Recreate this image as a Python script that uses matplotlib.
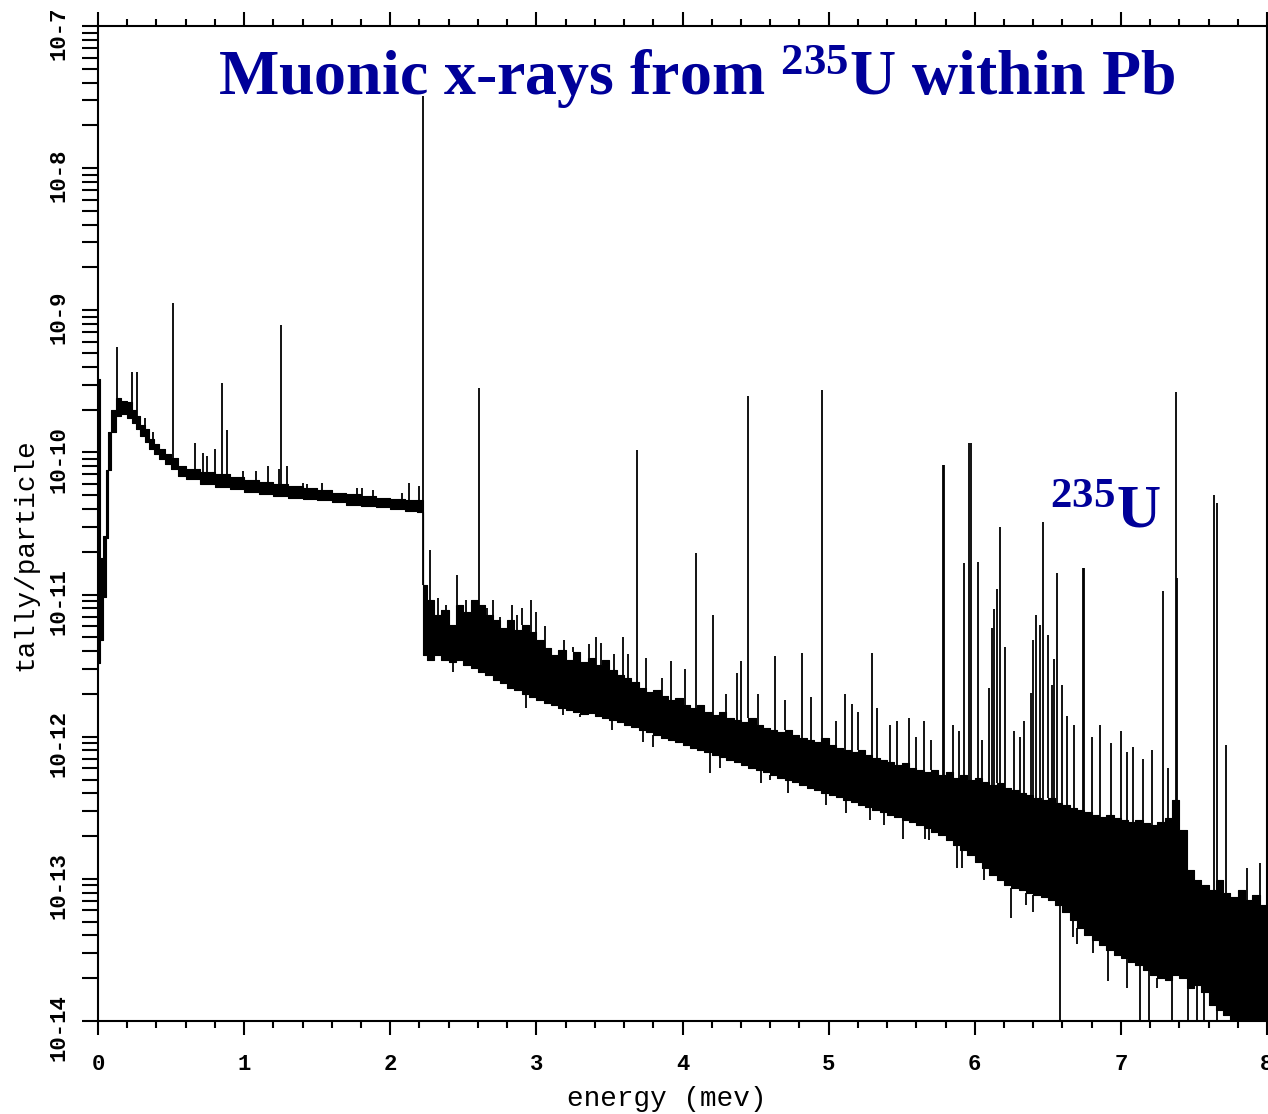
import numpy as np
import matplotlib
matplotlib.use("Agg")
import matplotlib.pyplot as plt
from matplotlib.ticker import LogLocator, MultipleLocator, NullFormatter, FixedLocator
from matplotlib.transforms import ScaledTranslation

plt.rcParams['mathtext.fontset'] = 'custom'
plt.rcParams['mathtext.rm'] = 'Liberation Serif:bold'
plt.rcParams['mathtext.it'] = 'Liberation Serif:bold'
plt.rcParams['mathtext.bf'] = 'Liberation Serif:bold'

# ---------------- data (energy in MeV, tally/particle) ----------------
# continuum band below 2.22 MeV: bin left edges, lower / upper envelope
low_e = [0.000, 0.015, 0.035, 0.055, 0.070, 0.090, 0.120, 0.160, 0.200, 0.230,
         0.260, 0.290, 0.320, 0.350, 0.380, 0.420, 0.460, 0.500, 0.550, 0.600,
         0.700, 0.800, 0.900, 1.000, 1.100, 1.200, 1.300, 1.400, 1.500, 1.600,
         1.700, 1.800, 1.900, 2.000, 2.100, 2.180]
low_lo = [3.3e-12, 4.8e-12, 9.6e-12, 2.5e-11, 7.5e-11, 1.4e-10, 1.8e-10, 1.85e-10, 1.75e-10, 1.6e-10,
          1.45e-10, 1.3e-10, 1.18e-10, 1.05e-10, 9.8e-11, 9.0e-11, 8.3e-11, 7.6e-11, 6.8e-11, 6.5e-11,
          6.0e-11, 5.7e-11, 5.5e-11, 5.3e-11, 5.1e-11, 4.95e-11, 4.8e-11, 4.7e-11, 4.6e-11, 4.45e-11,
          4.3e-11, 4.2e-11, 4.1e-11, 4.0e-11, 3.85e-11, 3.8e-11]
low_hi = [3.3e-10, 1.8e-11, 2.6e-11, 7.5e-11, 1.4e-10, 2.0e-10, 2.4e-10, 2.3e-10, 2.25e-10, 2.0e-10,
          1.8e-10, 1.55e-10, 1.45e-10, 1.25e-10, 1.15e-10, 1.05e-10, 9.8e-11, 9.2e-11, 8.0e-11, 7.7e-11,
          7.3e-11, 7.0e-11, 6.7e-11, 6.4e-11, 6.2e-11, 6.0e-11, 5.8e-11, 5.6e-11, 5.4e-11, 5.2e-11,
          5.1e-11, 4.95e-11, 4.8e-11, 4.7e-11, 4.65e-11, 4.6e-11]

# continuum band above 2.22 MeV
high_e = [2.222, 2.25, 2.30, 2.35, 2.40, 2.45, 2.50, 2.55, 2.60, 2.65,
          2.70, 2.75, 2.80, 2.85, 2.90, 2.95, 3.00, 3.05, 3.10, 3.15,
          3.20, 3.25, 3.30, 3.35, 3.40, 3.45, 3.50, 3.55, 3.60, 3.65,
          3.70, 3.75, 3.80, 3.85, 3.90, 3.95, 4.00, 4.05, 4.10, 4.15,
          4.20, 4.25, 4.30, 4.35, 4.40, 4.45, 4.50, 4.55, 4.60, 4.65,
          4.70, 4.75, 4.80, 4.85, 4.90, 4.95, 5.00, 5.05, 5.10, 5.15,
          5.20, 5.25, 5.30, 5.35, 5.40, 5.45, 5.50, 5.55, 5.60, 5.65,
          5.70, 5.75, 5.80, 5.85, 5.90, 5.95, 6.00, 6.05, 6.10, 6.15,
          6.20, 6.25, 6.30, 6.35, 6.40, 6.45, 6.50, 6.55, 6.60, 6.65,
          6.70, 6.75, 6.80, 6.85, 6.90, 6.95, 7.00, 7.05, 7.10, 7.15,
          7.20, 7.25, 7.30, 7.35, 7.40, 7.45, 7.50, 7.55, 7.60, 7.65,
          7.70, 7.75, 7.80, 7.85, 7.90, 7.95, 8.00]
high_hi = [1.17e-11, 9.2e-12, 7.2e-12, 7.8e-12, 6.1e-12, 8.45e-12, 7.5e-12, 9.2e-12, 8.45e-12, 7.2e-12,
           6.6e-12, 5.8e-12, 6.6e-12, 5.6e-12, 6.1e-12, 5.45e-12, 4.8e-12, 4.2e-12, 3.76e-12, 4.1e-12,
           3.47e-12, 3.95e-12, 3.36e-12, 3.58e-12, 3.2e-12, 3.47e-12, 2.95e-12, 2.72e-12, 2.59e-12, 2.43e-12,
           2.2e-12, 2.06e-12, 2.13e-12, 1.94e-12, 1.81e-12, 1.87e-12, 1.67e-12, 1.59e-12, 1.67e-12, 1.49e-12,
           1.42e-12, 1.49e-12, 1.36e-12, 1.31e-12, 1.27e-12, 1.36e-12, 1.21e-12, 1.15e-12, 1.11e-12, 1.08e-12,
           1.11e-12, 1.03e-12, 9.8e-13, 9.5e-13, 9.2e-13, 9.8e-13, 8.75e-13, 8.3e-13, 8.1e-13, 7.8e-13,
           8.1e-13, 7.45e-13, 7.1e-13, 6.85e-13, 6.65e-13, 6.3e-13, 6.5e-13, 6.0e-13, 5.8e-13, 5.65e-13,
           5.8e-13, 5.4e-13, 5.65e-13, 5.1e-13, 5.4e-13, 4.95e-13, 5.1e-13, 4.8e-13, 4.57e-13, 4.7e-13,
           4.35e-13, 4.2e-13, 4.0e-13, 3.9e-13, 3.7e-13, 3.6e-13, 3.7e-13, 3.42e-13, 3.3e-13, 3.15e-13,
           3.05e-13, 2.95e-13, 2.8e-13, 2.72e-13, 2.8e-13, 2.68e-13, 2.6e-13, 2.5e-13, 2.6e-13, 2.47e-13,
           2.4e-13, 2.5e-13, 2.68e-13, 3.6e-13, 2.2e-13, 1.15e-13, 9.8e-14, 9.05e-14, 8.35e-14, 9.8e-14,
           7.95e-14, 7.45e-14, 8.35e-14, 7.1e-14, 7.7e-14, 6.55e-14, 7.1e-14]
high_lo = [3.76e-12, 3.47e-12, 3.76e-12, 3.47e-12, 3.36e-12, 3.47e-12, 3.2e-12, 3.05e-12, 2.85e-12, 2.72e-12,
           2.5e-12, 2.39e-12, 2.2e-12, 2.13e-12, 2.0e-12, 1.9e-12, 1.81e-12, 1.73e-12, 1.67e-12, 1.59e-12,
           1.54e-12, 1.49e-12, 1.45e-12, 1.47e-12, 1.4e-12, 1.36e-12, 1.31e-12, 1.27e-12, 1.21e-12, 1.17e-12,
           1.11e-12, 1.08e-12, 1.03e-12, 9.8e-13, 9.5e-13, 9.2e-13, 8.75e-13, 8.3e-13, 8.1e-13, 7.8e-13,
           7.45e-13, 7.2e-13, 6.85e-13, 6.65e-13, 6.3e-13, 6.0e-13, 5.8e-13, 5.65e-13, 5.4e-13, 5.1e-13,
           4.95e-13, 4.8e-13, 4.57e-13, 4.35e-13, 4.2e-13, 4.0e-13, 3.9e-13, 3.77e-13, 3.6e-13, 3.47e-13,
           3.3e-13, 3.2e-13, 3.05e-13, 2.95e-13, 2.8e-13, 2.72e-13, 2.6e-13, 2.5e-13, 2.4e-13, 2.28e-13,
           2.14e-13, 2.04e-13, 1.88e-13, 1.73e-13, 1.6e-13, 1.47e-13, 1.31e-13, 1.19e-13, 1.06e-13, 9.8e-14,
           9.05e-14, 8.6e-14, 8.35e-14, 7.95e-14, 7.7e-14, 7.45e-14, 7.1e-14, 6.55e-14, 5.85e-14, 5.15e-14,
           4.5e-14, 4.0e-14, 3.7e-14, 3.4e-14, 3.15e-14, 2.9e-14, 2.77e-14, 2.6e-14, 2.48e-14, 2.29e-14,
           2.1e-14, 2.0e-14, 1.95e-14, 2.1e-14, 2.0e-14, 1.7e-14, 1.8e-14, 1.6e-14, 1.3e-14, 1.2e-14,
           1.1e-14, 5e-15, 5e-15, 5e-15, 5e-15, 5e-15, 5e-15]

# x-ray / gamma lines rising above the continuum: energy, peak value
peak_e = [0.130, 0.233, 0.267, 0.320, 0.375, 0.513, 0.664, 0.720, 0.745, 0.800,
          0.850, 0.880, 0.990, 1.080, 1.160, 1.240, 1.253, 1.290, 1.400, 1.430,
          1.530, 1.770, 1.810, 1.880, 2.080, 2.130, 2.200,
          2.223, 2.270, 2.330, 2.380, 2.457, 2.520, 2.610, 2.660, 2.700, 2.750,
          2.830, 2.870, 2.900, 2.960, 3.000, 3.060, 3.190, 3.250, 3.360, 3.410,
          3.440, 3.530, 3.590, 3.630, 3.691, 3.750, 3.860, 3.920, 4.020, 4.091,
          4.212, 4.300, 4.370, 4.400, 4.451, 4.520, 4.630, 4.700, 4.816, 4.880,
          4.955, 5.050, 5.110, 5.160, 5.200, 5.296, 5.330, 5.420, 5.470, 5.550,
          5.600, 5.650, 5.700, 5.781, 5.789, 5.850, 5.890, 5.927, 5.964, 5.972,
          6.021, 6.048, 6.100, 6.117, 6.135, 6.151, 6.174, 6.208, 6.270, 6.310,
          6.340, 6.386, 6.400, 6.420, 6.447, 6.468, 6.500, 6.530, 6.545, 6.564,
          6.600, 6.630, 6.680, 6.740, 6.748, 6.800, 6.860, 6.930, 7.000, 7.040,
          7.080, 7.150, 7.210, 7.287, 7.320, 7.378, 7.386, 7.639, 7.657, 7.720,
          7.860, 7.950]
peak_top = [5.5e-10, 3.7e-10, 3.7e-10, 1.75e-10, 1.39e-10, 1.12e-9, 1.16e-10, 9.9e-11, 9.5e-11, 1.05e-10,
            3.08e-10, 1.44e-10, 7.4e-11, 7.4e-11, 8.0e-11, 7.6e-11, 7.9e-10, 8.0e-11, 6.1e-11, 6.0e-11,
            6.1e-11, 5.6e-11, 5.6e-11, 5.4e-11, 5.2e-11, 6.1e-11, 5.8e-11,
            3.2e-8, 2.06e-11, 9.5e-12, 8.5e-12, 1.37e-11, 9.2e-12, 2.84e-10, 8.0e-12, 9.2e-12, 7.0e-12,
            8.5e-12, 7.2e-12, 8.0e-12, 9.2e-12, 7.6e-12, 6.0e-12, 4.8e-12, 4.3e-12, 4.5e-12, 5.0e-12,
            4.6e-12, 3.8e-12, 5.0e-12, 3.8e-12, 1.04e-10, 3.6e-12, 2.6e-12, 3.4e-12, 3.0e-12, 1.96e-11,
            7.2e-12, 2.0e-12, 2.8e-12, 3.4e-12, 2.5e-10, 2.0e-12, 3.7e-12, 1.8e-12, 3.9e-12, 1.9e-12,
            2.75e-10, 1.3e-12, 2.0e-12, 1.7e-12, 1.5e-12, 3.9e-12, 1.6e-12, 1.2e-12, 1.3e-12, 1.36e-12,
            1.0e-12, 1.3e-12, 9.5e-13, 8.2e-11, 8.2e-11, 1.2e-12, 1.1e-12, 1.67e-11, 1.16e-10, 1.16e-10,
            1.7e-11, 9.5e-13, 2.2e-12, 5.8e-12, 7.9e-12, 1.1e-11, 3.0e-11, 4.3e-12, 1.1e-12, 1.0e-12,
            1.3e-12, 2.03e-12, 4.8e-12, 7.2e-12, 6.1e-12, 3.24e-11, 5.2e-12, 2.3e-12, 3.5e-12, 1.42e-11,
            2.3e-12, 1.4e-12, 1.2e-12, 1.54e-11, 1.54e-11, 1.0e-12, 1.2e-12, 9.0e-13, 1.1e-12, 7.8e-13,
            8.5e-13, 7.0e-13, 8.0e-13, 1.06e-11, 6.0e-13, 2.66e-10, 1.3e-11, 5.0e-11, 4.4e-11, 8.7e-13,
            1.2e-13, 1.3e-13]

# bins dropping below the continuum: energy, lowest value
dip_e = [2.43, 2.93, 3.18, 3.30, 3.52, 3.73, 3.80, 4.19, 4.26, 4.54,
         4.60, 4.72, 4.98, 5.12, 5.28, 5.38, 5.51, 5.66, 5.69, 5.88,
         5.91, 6.06, 6.25, 6.35, 6.40, 6.58, 6.67, 6.70, 6.81, 6.91,
         7.04, 7.13, 7.19, 7.25, 7.35, 7.46, 7.52, 7.57, 7.66]
dip_bottom = [2.85e-12, 1.59e-12, 1.42e-12, 1.38e-12, 1.11e-12, 9.2e-13, 8.5e-13, 5.6e-13, 6.0e-13, 4.7e-13,
              4.95e-13, 4.0e-13, 3.3e-13, 2.9e-13, 2.6e-13, 2.4e-13, 1.9e-13, 1.9e-13, 1.88e-13, 1.19e-13,
              1.2e-13, 9.8e-14, 5.3e-14, 6.5e-14, 5.8e-14, 5e-15, 3.9e-14, 3.5e-14, 3.0e-14, 1.9e-14,
              1.7e-14, 5e-15, 5e-15, 1.7e-14, 5e-15, 5e-15, 5e-15, 5e-15, 5e-15]

x_ticks = [0, 1, 2, 3, 4, 5, 6, 7, 8]
x_tick_labels = ['0', '1', '2', '3', '4', '5', '6', '7', '8']
y_ticks = [1e-14, 1e-13, 1e-12, 1e-11, 1e-10, 1e-9, 1e-8, 1e-7]
y_tick_labels = ['10-14', '10-13', '10-12', '10-11', '10-10', '10-9', '10-8', '10-7']

title_text = r'Muonic x-rays from $^{235}$U within Pb'
note_text = r'$^{235}$U'
x_label = 'energy (mev)'
y_label = 'tally/particle'

# ---------------- figure ----------------
W, H = 1268, 1114
fig = plt.figure(figsize=(W / 100, H / 100), dpi=100)
ax = fig.add_axes([98 / W, 1 - 1021 / H, (1267 - 98) / W, (1021 - 26) / H])
ax.set_yscale('log')
ax.set_xlim(0, 8)
ax.set_ylim(1e-14, 1e-7)

E = np.array(low_e + high_e)
LO = np.array(low_lo + high_lo)
HI = np.array(low_hi + high_hi)
ax.fill_between(E, LO, HI, step='post', facecolor='black', edgecolor='black',
                linewidth=0.8, zorder=2)

pe = np.array(peak_e)
idx = np.clip(np.searchsorted(E, pe, side='right') - 1, 0, len(E) - 1)
ax.vlines(pe, HI[idx], peak_top, colors='black', linewidth=1.3, zorder=3)

de = np.array(dip_e)
idx = np.clip(np.searchsorted(E, de, side='right') - 1, 0, len(E) - 1)
ax.vlines(de, dip_bottom, LO[idx], colors='black', linewidth=1.3, zorder=3)

# axes styling
for s in ax.spines.values():
    s.set_linewidth(1.5)
    s.set_color('black')

tick_font = dict(family='Liberation Mono', weight='bold', size=16)
ax.xaxis.set_major_locator(FixedLocator(x_ticks))
ax.set_xticklabels(x_tick_labels, fontdict=tick_font)
ax.xaxis.set_minor_locator(MultipleLocator(0.2))
ax.tick_params(axis='x', which='major', direction='out', length=10, width=1.5,
               top=True, bottom=True, pad=14)
ax.tick_params(axis='x', which='minor', direction='out', length=5, width=1.5,
               top=True, bottom=True)

ax.yaxis.set_major_locator(FixedLocator(y_ticks))
ax.yaxis.set_minor_locator(LogLocator(base=10, subs=np.arange(2, 10), numticks=30))
ax.yaxis.set_minor_formatter(NullFormatter())
ax.set_yticklabels(y_tick_labels, fontdict=tick_font, rotation=90, va='center')
ax.tick_params(axis='y', which='both', direction='out', length=11.5, width=1.5,
               left=True, right=False, pad=9)
offset = ScaledTranslation(0, -0.07, fig.dpi_scale_trans)
for lab in ax.get_yticklabels():
    lab.set_transform(lab.get_transform() + offset)

fig.text(667 / W, 1 - 1099 / H, x_label, family='Liberation Mono', size=20,
         ha='center', va='center')
fig.text(25 / W, 1 - 555 / H, y_label, family='Liberation Mono', size=20,
         rotation=90, ha='center', va='center')

blue = '#000099'
fig.text(218 / W, 1 - 95 / H, title_text, family='Liberation Serif', weight='bold',
         size=46, color=blue, ha='left', va='baseline')
fig.text(1050 / W, 1 - 527 / H, note_text, family='Liberation Serif', weight='bold',
         size=44, color=blue, ha='left', va='baseline')

fig.savefig('out.png', dpi=100)
